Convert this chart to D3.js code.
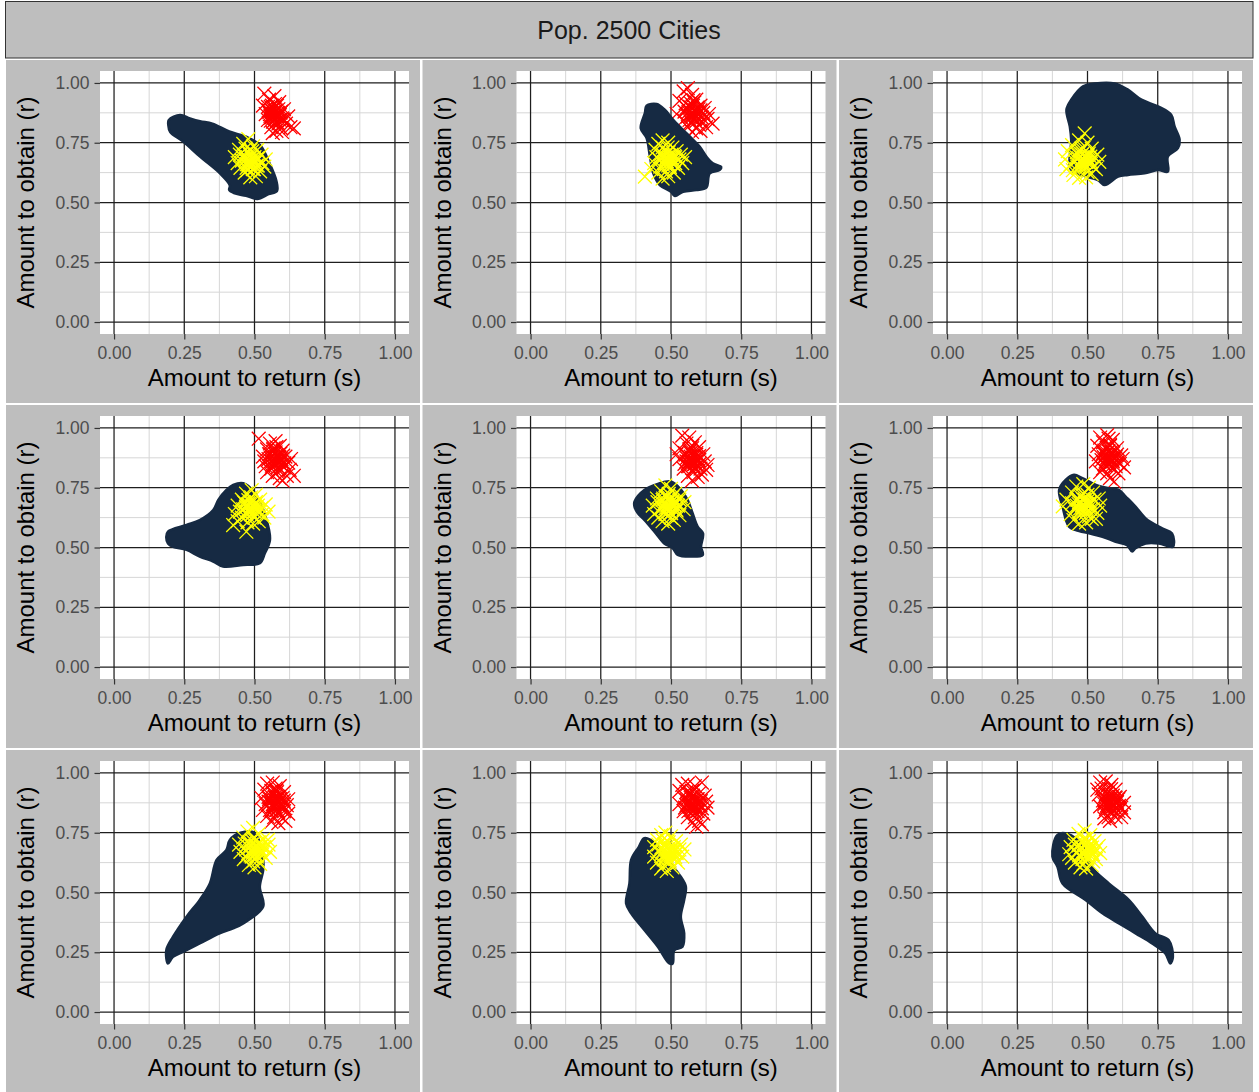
<!DOCTYPE html>
<html>
<head>
<meta charset="utf-8">
<script src="https://cdn.jsdelivr.net/npm/d3@7"></script>
<style>
  html, body { margin: 0; padding: 0; background: #ffffff; }
  svg { display: block; }
  text { font-family: "Liberation Sans", Arial, Helvetica, sans-serif; }
</style>
</head>
<body>
<svg id="chart" width="1259" height="1092"></svg>
<script>
// ---------------- DATA ----------------
const stripTitle = "Pop. 2500 Cities";
const xTitle = "Amount to return (s)";
const yTitle = "Amount to obtain (r)";
const majorTicks = [0, 0.25, 0.5, 0.75, 1];
const minorTicks = [0.125, 0.375, 0.625, 0.875];
const tickLabels = ["0.00", "0.25", "0.50", "0.75", "1.00"];

// trajectory envelopes (s, r) per panel
const blob1 = [[0.195,0.845],[0.235,0.866],[0.27,0.852],[0.306,0.84],[0.35,0.83],[0.41,0.797],[0.47,0.775],[0.52,0.74],[0.555,0.66],[0.578,0.59],[0.58,0.548],[0.55,0.535],[0.51,0.515],[0.47,0.528],[0.43,0.538],[0.41,0.552],[0.412,0.572],[0.377,0.622],[0.306,0.692],[0.247,0.754],[0.2,0.795],[0.193,0.825]];
const blob2 = [[0.413,0.905],[0.449,0.912],[0.478,0.888],[0.508,0.846],[0.543,0.804],[0.573,0.769],[0.602,0.734],[0.626,0.692],[0.649,0.664],[0.679,0.648],[0.673,0.636],[0.638,0.622],[0.626,0.562],[0.59,0.552],[0.543,0.545],[0.514,0.527],[0.5,0.545],[0.46,0.573],[0.437,0.622],[0.425,0.692],[0.413,0.769],[0.392,0.811],[0.407,0.874]];
const blob3 = [[0.442,0.93],[0.484,0.986],[0.526,0.998],[0.597,0.998],[0.644,0.972],[0.692,0.93],[0.751,0.902],[0.798,0.867],[0.81,0.818],[0.828,0.762],[0.822,0.727],[0.786,0.692],[0.786,0.629],[0.751,0.636],[0.703,0.622],[0.644,0.615],[0.609,0.608],[0.561,0.573],[0.537,0.594],[0.49,0.61],[0.44,0.64],[0.442,0.762],[0.437,0.818],[0.425,0.888]];
const blob4 = [[0.186,0.545],[0.192,0.566],[0.258,0.594],[0.305,0.615],[0.353,0.657],[0.371,0.699],[0.40,0.741],[0.424,0.762],[0.46,0.769],[0.50,0.73],[0.543,0.615],[0.555,0.531],[0.537,0.476],[0.519,0.434],[0.46,0.427],[0.388,0.42],[0.353,0.441],[0.305,0.462],[0.258,0.49],[0.21,0.503],[0.192,0.517]];
const blob5 = [[0.37,0.692],[0.405,0.741],[0.45,0.765],[0.5,0.776],[0.536,0.741],[0.559,0.699],[0.577,0.643],[0.595,0.587],[0.614,0.559],[0.607,0.503],[0.613,0.469],[0.571,0.462],[0.524,0.469],[0.506,0.497],[0.476,0.517],[0.441,0.566],[0.405,0.615],[0.382,0.643],[0.37,0.671]];
const blob6 = [[0.422,0.783],[0.452,0.804],[0.482,0.79],[0.53,0.762],[0.576,0.748],[0.612,0.741],[0.636,0.713],[0.671,0.671],[0.707,0.622],[0.766,0.58],[0.801,0.559],[0.804,0.503],[0.754,0.517],[0.707,0.517],[0.671,0.497],[0.659,0.483],[0.641,0.51],[0.6,0.524],[0.553,0.545],[0.505,0.559],[0.458,0.573],[0.434,0.587],[0.411,0.671],[0.399,0.741]];
const blob7 = [[0.192,0.203],[0.186,0.259],[0.21,0.315],[0.258,0.399],[0.305,0.469],[0.341,0.538],[0.365,0.636],[0.40,0.678],[0.412,0.72],[0.45,0.75],[0.50,0.75],[0.53,0.65],[0.531,0.594],[0.519,0.524],[0.531,0.441],[0.46,0.371],[0.424,0.35],[0.376,0.329],[0.305,0.287],[0.246,0.252],[0.21,0.231]];
const blob8 = [[0.405,0.727],[0.385,0.69],[0.358,0.636],[0.352,0.538],[0.34,0.455],[0.358,0.413],[0.405,0.343],[0.453,0.273],[0.494,0.203],[0.506,0.203],[0.512,0.259],[0.541,0.273],[0.547,0.329],[0.535,0.399],[0.547,0.469],[0.553,0.524],[0.535,0.566],[0.5,0.62],[0.45,0.7]];
const blob9 = [[0.393,0.741],[0.375,0.65],[0.393,0.608],[0.411,0.538],[0.493,0.469],[0.553,0.413],[0.612,0.371],[0.671,0.329],[0.73,0.287],[0.777,0.245],[0.795,0.203],[0.804,0.231],[0.789,0.301],[0.742,0.329],[0.695,0.399],[0.647,0.469],[0.576,0.538],[0.52,0.6],[0.48,0.7],[0.43,0.745]];

// starting points (red)
const red1 = [[0.535,0.955],[0.552,0.93],[0.571,0.945],[0.548,0.90],[0.562,0.885],[0.580,0.905],[0.592,0.875],[0.557,0.862],[0.574,0.853],[0.566,0.838],[0.585,0.83],[0.603,0.848],[0.548,0.845],[0.540,0.87],[0.560,0.815],[0.578,0.80],[0.595,0.81],[0.612,0.83],[0.628,0.815],[0.640,0.81],[0.620,0.86],[0.605,0.89],[0.588,0.92],[0.568,0.87],[0.553,0.878],[0.582,0.862],[0.598,0.795],[0.565,0.79],[0.530,0.905],[0.575,0.885],[0.590,0.845],[0.558,0.90],
  [0.565,0.870],[0.575,0.880],[0.560,0.855],[0.580,0.860],[0.570,0.895],[0.585,0.890],[0.555,0.870],[0.590,0.865],[0.572,0.845],[0.562,0.905],[0.578,0.838],[0.595,0.880],[0.550,0.885],[0.568,0.858],[0.583,0.875],[0.573,0.912],[0.558,0.842],[0.598,0.852]];
const red2 = [[0.545,0.965],[0.560,0.978],[0.575,0.950],[0.530,0.925],[0.552,0.915],[0.590,0.930],[0.605,0.905],[0.568,0.900],[0.582,0.885],[0.548,0.880],[0.520,0.870],[0.560,0.860],[0.595,0.870],[0.615,0.875],[0.630,0.850],[0.648,0.830],[0.610,0.840],[0.585,0.850],[0.570,0.835],[0.545,0.845],[0.560,0.815],[0.590,0.810],[0.605,0.800],[0.625,0.815],[0.575,0.795],[0.600,0.825],[0.635,0.870],[0.578,0.868],[0.598,0.890],[0.555,0.895],[0.620,0.895],[0.583,0.918],
  [0.575,0.875],[0.585,0.885],[0.568,0.860],[0.590,0.862],[0.578,0.905],[0.595,0.898],[0.562,0.878],[0.600,0.872],[0.582,0.848],[0.570,0.915],[0.588,0.838],[0.605,0.885],[0.558,0.892],[0.576,0.862],[0.592,0.878],[0.580,0.928],[0.566,0.845],[0.610,0.855]];
const red3 = [[0.530,0.965],[0.580,0.968],[0.535,0.925],[0.560,0.945],[0.600,0.935],[0.620,0.915],[0.575,0.905],[0.550,0.890],[0.590,0.880],[0.610,0.860],[0.565,0.865],[0.540,0.850],[0.580,0.840],[0.600,0.820],[0.555,0.815],[0.575,0.800],[0.625,0.840],[0.545,0.875],[0.595,0.900],[0.570,0.880],
  [0.572,0.870],[0.585,0.885],[0.560,0.860],[0.590,0.865],[0.575,0.900],[0.565,0.840],[0.598,0.880],[0.552,0.882],[0.580,0.855],[0.568,0.918]];
const red4 = [[0.515,0.955],[0.555,0.935],[0.575,0.945],[0.590,0.925],[0.545,0.910],[0.565,0.900],[0.600,0.905],[0.530,0.880],[0.550,0.870],[0.580,0.880],[0.610,0.880],[0.620,0.855],[0.595,0.860],[0.570,0.850],[0.540,0.840],[0.560,0.830],[0.585,0.825],[0.605,0.835],[0.625,0.825],[0.640,0.800],[0.615,0.800],[0.590,0.790],[0.565,0.800],[0.545,0.815],[0.600,0.780],[0.575,0.865],[0.555,0.890],[0.595,0.845],[0.630,0.870],[0.568,0.915],[0.582,0.815],[0.535,0.860],
  [0.570,0.875],[0.580,0.885],[0.562,0.858],[0.588,0.862],[0.575,0.898],[0.592,0.892],[0.558,0.874],[0.596,0.870],[0.576,0.846],[0.566,0.910],[0.584,0.836],[0.602,0.884],[0.552,0.890],[0.572,0.860],[0.588,0.878],[0.578,0.920],[0.562,0.842],[0.606,0.852]];
const red5 = [[0.540,0.968],[0.565,0.960],[0.585,0.940],[0.555,0.935],[0.530,0.915],[0.575,0.915],[0.600,0.920],[0.550,0.895],[0.590,0.895],[0.615,0.890],[0.570,0.880],[0.530,0.870],[0.555,0.860],[0.600,0.865],[0.620,0.860],[0.585,0.850],[0.565,0.840],[0.545,0.830],[0.605,0.830],[0.625,0.825],[0.580,0.815],[0.560,0.800],[0.595,0.795],[0.575,0.780],[0.610,0.805],[0.548,0.850],[0.572,0.862],[0.592,0.875],[0.565,0.900],[0.630,0.845],[0.585,0.830],[0.520,0.890],
  [0.568,0.872],[0.578,0.884],[0.562,0.856],[0.585,0.858],[0.572,0.898],[0.590,0.888],[0.556,0.874],[0.596,0.866],[0.578,0.845],[0.566,0.912],[0.582,0.832],[0.600,0.882],[0.552,0.888],[0.570,0.860],[0.586,0.874],[0.576,0.925],[0.560,0.840],[0.602,0.850]];
const red6 = [[0.545,0.960],[0.570,0.970],[0.590,0.950],[0.555,0.940],[0.535,0.925],[0.580,0.925],[0.605,0.915],[0.560,0.905],[0.585,0.900],[0.540,0.890],[0.620,0.885],[0.600,0.880],[0.570,0.875],[0.550,0.865],[0.530,0.860],[0.590,0.860],[0.615,0.850],[0.630,0.835],[0.575,0.845],[0.555,0.830],[0.595,0.825],[0.610,0.810],[0.570,0.810],[0.580,0.790],[0.595,0.775],[0.545,0.815],[0.565,0.890],[0.600,0.840],[0.585,0.870],[0.560,0.850],[0.625,0.870],[0.575,0.955],
  [0.572,0.878],[0.582,0.888],[0.565,0.862],[0.588,0.866],[0.575,0.902],[0.592,0.894],[0.558,0.878],[0.598,0.872],[0.578,0.850],[0.568,0.915],[0.585,0.840],[0.605,0.888],[0.555,0.895],[0.572,0.865],[0.590,0.880],[0.580,0.930],[0.562,0.845],[0.608,0.858]];
const red7 = [[0.545,0.955],[0.565,0.960],[0.590,0.945],[0.535,0.930],[0.560,0.925],[0.580,0.920],[0.605,0.920],[0.525,0.895],[0.550,0.900],[0.575,0.895],[0.600,0.895],[0.620,0.890],[0.540,0.870],[0.565,0.870],[0.590,0.870],[0.615,0.865],[0.530,0.845],[0.555,0.845],[0.580,0.845],[0.605,0.840],[0.620,0.830],[0.545,0.820],[0.570,0.815],[0.595,0.815],[0.560,0.795],[0.585,0.790],[0.610,0.800],[0.570,0.860],[0.585,0.900],[0.550,0.880],[0.600,0.860],[0.575,0.935],
  [0.570,0.874],[0.580,0.886],[0.564,0.860],[0.586,0.864],[0.572,0.900],[0.592,0.890],[0.556,0.876],[0.598,0.868],[0.578,0.848],[0.566,0.914],[0.584,0.836],[0.604,0.884],[0.552,0.892],[0.572,0.862],[0.588,0.876],[0.578,0.926],[0.560,0.842],[0.606,0.854]];
const red8 = [[0.540,0.950],[0.560,0.955],[0.585,0.945],[0.610,0.960],[0.530,0.925],[0.555,0.920],[0.575,0.925],[0.600,0.915],[0.545,0.895],[0.570,0.895],[0.595,0.890],[0.625,0.880],[0.530,0.870],[0.555,0.865],[0.580,0.870],[0.605,0.865],[0.630,0.855],[0.545,0.840],[0.570,0.845],[0.595,0.840],[0.615,0.830],[0.560,0.815],[0.585,0.815],[0.600,0.800],[0.575,0.790],[0.590,0.775],[0.610,0.785],[0.565,0.880],[0.588,0.855],[0.550,0.855],[0.620,0.905],[0.578,0.905],
  [0.572,0.872],[0.582,0.884],[0.566,0.858],[0.588,0.862],[0.575,0.898],[0.594,0.890],[0.558,0.872],[0.600,0.868],[0.580,0.846],[0.568,0.912],[0.586,0.834],[0.606,0.882],[0.554,0.888],[0.574,0.860],[0.590,0.874],[0.582,0.928],[0.562,0.840],[0.610,0.852]];
const red9 = [[0.545,0.960],[0.565,0.965],[0.585,0.950],[0.550,0.935],[0.575,0.935],[0.600,0.930],[0.540,0.910],[0.565,0.910],[0.590,0.905],[0.615,0.900],[0.555,0.885],[0.580,0.885],[0.605,0.880],[0.630,0.875],[0.545,0.860],[0.570,0.860],[0.595,0.860],[0.620,0.855],[0.560,0.835],[0.585,0.835],[0.610,0.840],[0.630,0.835],[0.575,0.815],[0.600,0.815],[0.580,0.800],[0.560,0.810],[0.620,0.815],[0.590,0.870],[0.570,0.890],[0.600,0.895],[0.560,0.870],[0.535,0.930],
  [0.576,0.882],[0.586,0.894],[0.570,0.866],[0.592,0.870],[0.578,0.906],[0.598,0.898],[0.562,0.882],[0.604,0.876],[0.584,0.854],[0.572,0.918],[0.590,0.844],[0.610,0.890],[0.558,0.898],[0.578,0.870],[0.594,0.884],[0.584,0.932],[0.566,0.850],[0.612,0.862]];

// end points (yellow)
const yellow1 = [[0.430,0.690],[0.445,0.720],[0.460,0.745],[0.478,0.765],[0.495,0.735],[0.510,0.720],[0.525,0.700],[0.540,0.680],[0.535,0.650],[0.520,0.630],[0.505,0.610],[0.485,0.605],[0.465,0.625],[0.450,0.645],[0.440,0.665],[0.470,0.680],[0.488,0.690],[0.500,0.665],[0.478,0.655],[0.462,0.700],[0.492,0.715],[0.515,0.685],[0.498,0.640],[0.475,0.635],[0.455,0.675],[0.482,0.675],[0.508,0.655],[0.468,0.725],[0.528,0.665],[0.448,0.700],[0.490,0.660],[0.472,0.660],
  [0.480,0.672],[0.490,0.682],[0.475,0.660],[0.495,0.662],[0.485,0.698],[0.500,0.690],[0.468,0.678],[0.505,0.672],[0.488,0.648],[0.478,0.708],[0.494,0.640],[0.510,0.685],[0.465,0.695],[0.482,0.662],[0.498,0.678],[0.486,0.720],[0.472,0.645],[0.512,0.655]];
const yellow2 = [[0.407,0.608],[0.430,0.640],[0.445,0.720],[0.455,0.745],[0.470,0.760],[0.490,0.750],[0.505,0.730],[0.520,0.715],[0.535,0.700],[0.550,0.690],[0.540,0.665],[0.525,0.645],[0.510,0.625],[0.490,0.610],[0.470,0.600],[0.455,0.625],[0.440,0.665],[0.448,0.690],[0.470,0.700],[0.485,0.690],[0.500,0.680],[0.478,0.665],[0.462,0.650],[0.495,0.655],[0.515,0.690],[0.470,0.730],[0.492,0.710],[0.508,0.660],[0.482,0.630],[0.458,0.680],[0.530,0.680],[0.485,0.672],
  [0.482,0.682],[0.492,0.692],[0.476,0.668],[0.498,0.672],[0.486,0.708],[0.502,0.700],[0.470,0.688],[0.508,0.680],[0.490,0.655],[0.478,0.718],[0.496,0.648],[0.512,0.695],[0.466,0.705],[0.484,0.672],[0.500,0.688],[0.488,0.730],[0.474,0.655],[0.515,0.665]];
const yellow3 = [[0.425,0.640],[0.420,0.680],[0.430,0.715],[0.445,0.740],[0.470,0.760],[0.490,0.789],[0.500,0.750],[0.515,0.725],[0.535,0.700],[0.542,0.670],[0.530,0.640],[0.515,0.620],[0.495,0.605],[0.470,0.603],[0.450,0.615],[0.440,0.660],[0.460,0.690],[0.480,0.700],[0.498,0.690],[0.512,0.670],[0.490,0.650],[0.470,0.645],[0.455,0.672],[0.478,0.725],[0.505,0.705],[0.520,0.650],[0.485,0.668],[0.462,0.710],[0.525,0.690],[0.448,0.635],[0.500,0.628],[0.482,0.685],
  [0.480,0.680],[0.490,0.690],[0.474,0.668],[0.496,0.670],[0.484,0.706],[0.500,0.698],[0.468,0.686],[0.506,0.678],[0.488,0.654],[0.476,0.716],[0.494,0.646],[0.510,0.692],[0.464,0.702],[0.482,0.670],[0.498,0.686],[0.486,0.728],[0.472,0.652],[0.512,0.662]];
const yellow4 = [[0.471,0.566],[0.424,0.594],[0.440,0.610],[0.430,0.640],[0.440,0.675],[0.455,0.700],[0.470,0.725],[0.490,0.740],[0.505,0.720],[0.520,0.700],[0.540,0.680],[0.550,0.650],[0.535,0.625],[0.515,0.610],[0.495,0.600],[0.475,0.605],[0.455,0.625],[0.460,0.660],[0.478,0.680],[0.495,0.670],[0.510,0.655],[0.490,0.640],[0.470,0.645],[0.462,0.690],[0.485,0.705],[0.505,0.690],[0.525,0.665],[0.500,0.625],[0.480,0.660],[0.448,0.650],[0.528,0.640],[0.492,0.688],
  [0.482,0.662],[0.492,0.672],[0.476,0.650],[0.498,0.652],[0.486,0.688],[0.502,0.680],[0.470,0.668],[0.508,0.662],[0.490,0.638],[0.478,0.698],[0.496,0.630],[0.512,0.675],[0.466,0.685],[0.484,0.652],[0.500,0.668],[0.488,0.710],[0.474,0.635],[0.515,0.645]];
const yellow5 = [[0.440,0.640],[0.435,0.675],[0.450,0.705],[0.465,0.735],[0.480,0.760],[0.500,0.745],[0.515,0.725],[0.530,0.700],[0.548,0.690],[0.545,0.660],[0.530,0.635],[0.510,0.615],[0.490,0.600],[0.470,0.610],[0.455,0.625],[0.460,0.660],[0.478,0.685],[0.495,0.695],[0.512,0.680],[0.520,0.655],[0.500,0.645],[0.480,0.640],[0.468,0.665],[0.488,0.715],[0.505,0.710],[0.525,0.675],[0.490,0.668],[0.472,0.705],[0.452,0.690],[0.500,0.625],[0.535,0.715],[0.485,0.655],
  [0.486,0.676],[0.496,0.686],[0.480,0.664],[0.502,0.666],[0.490,0.702],[0.506,0.694],[0.474,0.682],[0.512,0.676],[0.494,0.652],[0.482,0.712],[0.500,0.644],[0.516,0.690],[0.470,0.699],[0.488,0.666],[0.504,0.682],[0.492,0.724],[0.478,0.649],[0.518,0.659]];
const yellow6 = [[0.412,0.672],[0.425,0.700],[0.440,0.640],[0.445,0.730],[0.460,0.755],[0.485,0.765],[0.505,0.750],[0.520,0.730],[0.540,0.705],[0.545,0.675],[0.535,0.645],[0.515,0.620],[0.495,0.605],[0.470,0.600],[0.450,0.615],[0.455,0.660],[0.470,0.690],[0.490,0.700],[0.508,0.685],[0.520,0.660],[0.498,0.650],[0.478,0.640],[0.462,0.675],[0.480,0.720],[0.500,0.720],[0.525,0.700],[0.488,0.672],[0.465,0.705],[0.445,0.685],[0.505,0.630],[0.475,0.655],[0.530,0.620],
  [0.480,0.676],[0.490,0.688],[0.474,0.664],[0.497,0.666],[0.484,0.702],[0.500,0.694],[0.468,0.682],[0.506,0.676],[0.488,0.652],[0.476,0.712],[0.494,0.644],[0.510,0.690],[0.464,0.699],[0.482,0.666],[0.498,0.682],[0.486,0.724],[0.472,0.649],[0.512,0.659]];
const yellow7 = [[0.445,0.700],[0.450,0.670],[0.460,0.730],[0.475,0.755],[0.495,0.770],[0.515,0.745],[0.530,0.720],[0.550,0.700],[0.555,0.670],[0.540,0.645],[0.520,0.620],[0.500,0.605],[0.480,0.615],[0.462,0.640],[0.470,0.680],[0.488,0.700],[0.505,0.695],[0.520,0.680],[0.510,0.655],[0.490,0.650],[0.478,0.665],[0.495,0.725],[0.515,0.710],[0.535,0.690],[0.500,0.675],[0.482,0.712],[0.528,0.660],[0.465,0.705],[0.548,0.720],[0.495,0.630],[0.512,0.635],[0.470,0.650],
  [0.494,0.682],[0.504,0.692],[0.488,0.670],[0.510,0.672],[0.498,0.708],[0.514,0.700],[0.482,0.688],[0.520,0.682],[0.502,0.658],[0.490,0.718],[0.508,0.650],[0.524,0.695],[0.478,0.705],[0.496,0.672],[0.512,0.688],[0.500,0.730],[0.486,0.655],[0.526,0.665]];
const yellow8 = [[0.440,0.690],[0.450,0.720],[0.465,0.740],[0.480,0.750],[0.500,0.735],[0.518,0.715],[0.535,0.700],[0.548,0.680],[0.540,0.650],[0.525,0.625],[0.505,0.605],[0.485,0.590],[0.465,0.600],[0.450,0.625],[0.440,0.650],[0.458,0.675],[0.475,0.700],[0.492,0.710],[0.510,0.690],[0.520,0.665],[0.500,0.650],[0.480,0.640],[0.465,0.660],[0.488,0.680],[0.505,0.670],[0.470,0.720],[0.530,0.680],[0.495,0.625],[0.455,0.700],[0.475,0.615],[0.515,0.640],[0.483,0.660],
  [0.482,0.666],[0.492,0.676],[0.476,0.654],[0.498,0.656],[0.486,0.692],[0.502,0.684],[0.470,0.672],[0.508,0.666],[0.490,0.642],[0.478,0.702],[0.496,0.634],[0.512,0.679],[0.466,0.689],[0.484,0.656],[0.500,0.672],[0.488,0.714],[0.474,0.639],[0.515,0.649]];
const yellow9 = [[0.435,0.660],[0.440,0.690],[0.450,0.720],[0.468,0.745],[0.490,0.760],[0.510,0.740],[0.525,0.715],[0.540,0.695],[0.545,0.665],[0.530,0.640],[0.515,0.615],[0.495,0.600],[0.475,0.605],[0.455,0.625],[0.445,0.645],[0.462,0.670],[0.478,0.690],[0.495,0.700],[0.512,0.685],[0.520,0.660],[0.500,0.648],[0.482,0.640],[0.468,0.700],[0.488,0.725],[0.505,0.715],[0.530,0.680],[0.490,0.672],[0.470,0.655],[0.455,0.700],[0.520,0.630],[0.485,0.620],[0.500,0.690],
  [0.486,0.674],[0.496,0.684],[0.480,0.662],[0.502,0.664],[0.490,0.700],[0.506,0.692],[0.474,0.680],[0.512,0.674],[0.494,0.650],[0.482,0.710],[0.500,0.642],[0.516,0.688],[0.470,0.697],[0.488,0.664],[0.504,0.680],[0.492,0.722],[0.478,0.647],[0.518,0.657]];

const blobs = [blob1, blob2, blob3, blob4, blob5, blob6, blob7, blob8, blob9];
const reds = [red1, red2, red3, red4, red5, red6, red7, red8, red9];
const yellows = [yellow1, yellow2, yellow3, yellow4, yellow5, yellow6, yellow7, yellow8, yellow9];

// ---------------- DRAW ----------------
const svg = d3.select("#chart");
const FONT = '"Liberation Sans", Arial, Helvetica, sans-serif';
const NAVY = "#162a43";
const PANEL_BG = "#bebebe";

// strip title
svg.append("rect").attr("x", 5.5).attr("y", 1.5).attr("width", 1247.5).attr("height", 56.5)
  .attr("fill", PANEL_BG).attr("stroke", "#333333").attr("stroke-width", 1);
svg.append("text").attr("x", 629).attr("y", 39.3).attr("text-anchor", "middle")
  .attr("font-size", 25).attr("fill", "#1a1a1a").text(stripTitle);

const panelX = [6, 422.5, 839];
const panelY = [60, 405, 750];
const panelW = 414, panelH = 343;
const plotL = 94, plotT = 11, plotW = 309, plotH = 263;

const x = d3.scaleLinear().domain([-0.05, 1.05]).range([0, plotW]);
const y = d3.scaleLinear().domain([-0.05, 1.05]).range([plotH, 0]);
const blobLine = d3.line().x(d => x(d[0])).y(d => y(d[1])).curve(d3.curveCatmullRomClosed.alpha(0.5));
const M = 6.9; // cross half-size

const defs = svg.append("defs");
defs.append("clipPath").attr("id", "plotclip")
  .append("rect").attr("x", 0).attr("y", 0).attr("width", plotW).attr("height", plotH);

for (let i = 0; i < 9; i++) {
  const col = i % 3, row = Math.floor(i / 3);
  const pg = svg.append("g").attr("transform", `translate(${panelX[col]},${panelY[row]})`);
  pg.append("rect").attr("width", panelW).attr("height", panelH).attr("fill", PANEL_BG);

  const g = pg.append("g").attr("transform", `translate(${plotL},${plotT})`);
  g.append("rect").attr("width", plotW).attr("height", plotH).attr("fill", "#ffffff");

  // minor grid
  g.selectAll(".mnx").data(minorTicks).join("line")
    .attr("x1", d => x(d)).attr("x2", d => x(d)).attr("y1", 0).attr("y2", plotH)
    .attr("stroke", "#d6d6d6").attr("stroke-width", 1);
  g.selectAll(".mny").data(minorTicks).join("line")
    .attr("y1", d => y(d)).attr("y2", d => y(d)).attr("x1", 0).attr("x2", plotW)
    .attr("stroke", "#d6d6d6").attr("stroke-width", 1);
  // major grid
  g.selectAll(".mjx").data(majorTicks).join("line")
    .attr("x1", d => x(d)).attr("x2", d => x(d)).attr("y1", 0).attr("y2", plotH)
    .attr("stroke", "#1e1e1e").attr("stroke-width", 1.25);
  g.selectAll(".mjy").data(majorTicks).join("line")
    .attr("y1", d => y(d)).attr("y2", d => y(d)).attr("x1", 0).attr("x2", plotW)
    .attr("stroke", "#1e1e1e").attr("stroke-width", 1.25);

  const marks = g.append("g").attr("clip-path", "url(#plotclip)");
  const cross = `M${-M},${-M}L${M},${M}M${-M},${M}L${M},${-M}`;
  // red start markers (under trajectories)
  marks.append("g").selectAll("path").data(reds[i]).join("path")
    .attr("transform", d => `translate(${x(d[0])},${y(d[1])})`)
    .attr("d", cross).attr("stroke", "#ff0000").attr("stroke-width", 1.3).attr("fill", "none");
  // trajectory envelope
  marks.append("path").datum(blobs[i]).attr("d", blobLine)
    .attr("fill", NAVY).attr("stroke", NAVY).attr("stroke-width", 2.5).attr("stroke-linejoin", "round");
  // yellow end markers
  marks.append("g").selectAll("path").data(yellows[i]).join("path")
    .attr("transform", d => `translate(${x(d[0])},${y(d[1])})`)
    .attr("d", cross).attr("stroke", "#ffff00").attr("stroke-width", 1.3).attr("fill", "none");

  // axes
  const xa = g.append("g").attr("transform", `translate(0,${plotH})`)
    .call(d3.axisBottom(x).tickValues(majorTicks).tickFormat((d, k) => tickLabels[k]).tickSize(5.5).tickPadding(7));
  const ya = g.append("g")
    .call(d3.axisLeft(y).tickValues(majorTicks).tickFormat((d, k) => tickLabels[k]).tickSize(5.5).tickPadding(5));
  [xa, ya].forEach(a => {
    a.select(".domain").remove();
    a.selectAll(".tick line").attr("stroke", "#333333").attr("stroke-width", 1.2);
    a.selectAll(".tick text").attr("font-family", FONT).attr("font-size", 17.5).attr("fill", "#4d4d4d");
  });

  // axis titles
  pg.append("text").attr("x", plotL + plotW / 2).attr("y", 326).attr("text-anchor", "middle")
    .attr("font-size", 24).attr("fill", "#000000").text(xTitle);
  pg.append("text").attr("transform", `translate(${28},${plotT + plotH / 2}) rotate(-90)`)
    .attr("text-anchor", "middle").attr("font-size", 24).attr("fill", "#000000").text(yTitle);
}
</script>
</body>
</html>
